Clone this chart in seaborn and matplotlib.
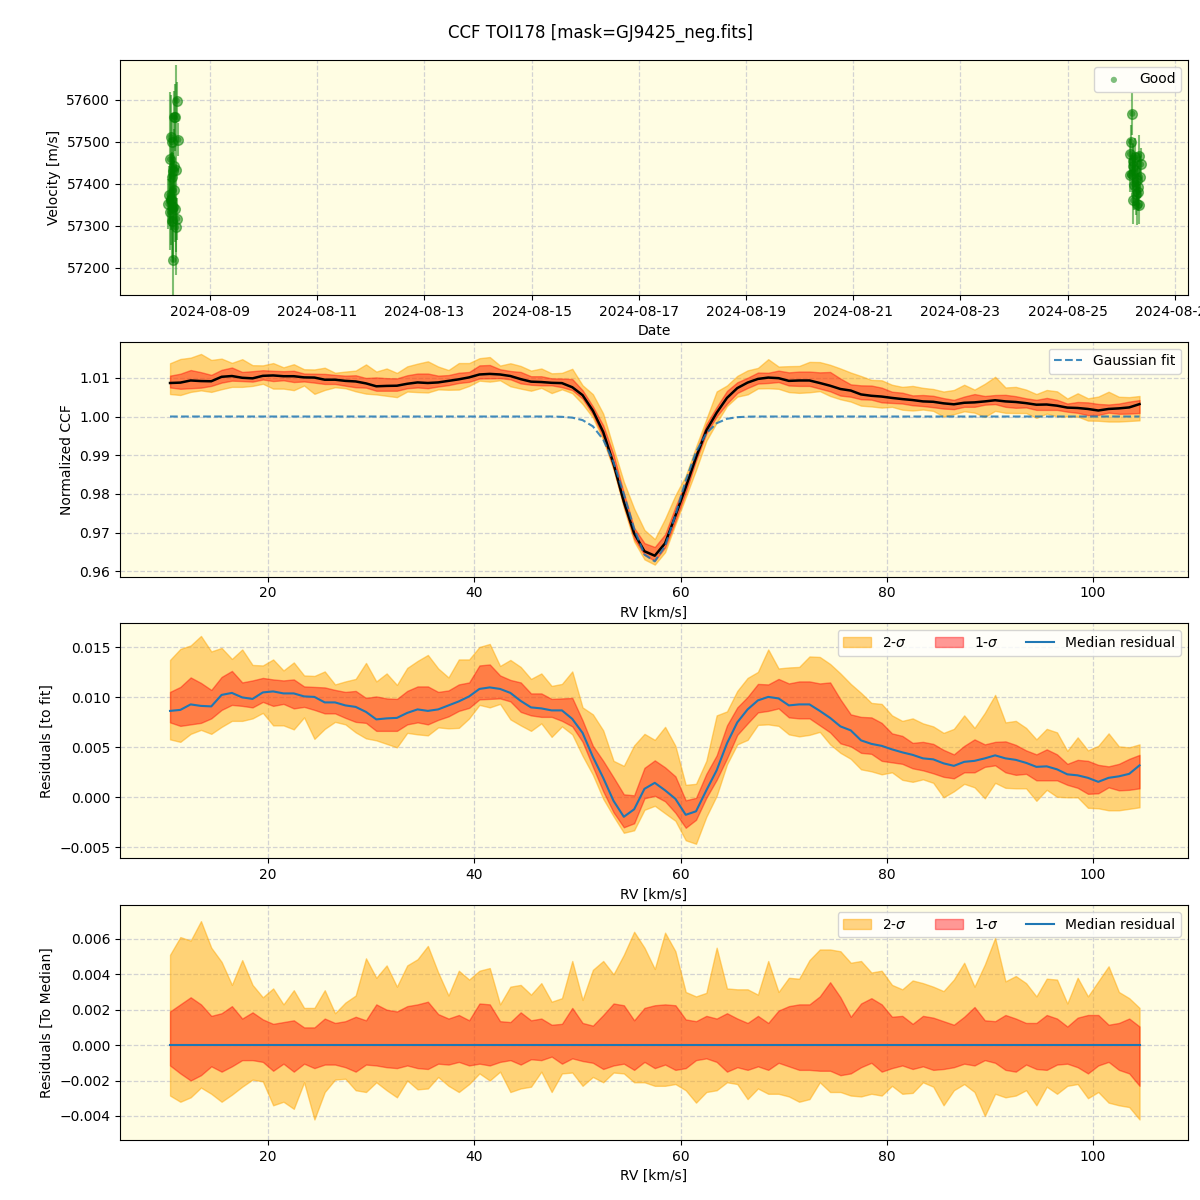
import matplotlib
matplotlib.use("Agg")
import matplotlib.pyplot as plt
import matplotlib.dates as mdates
import seaborn as sns
import numpy as np
import pandas as pd

# ---- panel 1: RV time series (Good points) ----
times = [
    "2024-08-08 09:06", "2024-08-08 07:53", "2024-08-08 08:15", "2024-08-08 06:24",
    "2024-08-08 09:50", "2024-08-08 06:50", "2024-08-08 06:05", "2024-08-08 07:53",
    "2024-08-08 08:47", "2024-08-08 07:18", "2024-08-08 05:48", "2024-08-08 06:24",
    "2024-08-08 05:20", "2024-08-08 07:35", "2024-08-08 08:15", "2024-08-08 09:16",
    "2024-08-08 06:50", "2024-08-08 08:47", "2024-08-08 07:35", "2024-08-08 06:30",
    "2024-08-08 07:10", "2024-08-08 07:50", "2024-08-08 06:10",
    "2024-08-26 04:58", "2024-08-26 04:24", "2024-08-26 03:56", "2024-08-26 07:58",
    "2024-08-26 06:11", "2024-08-26 08:52", "2024-08-26 05:25", "2024-08-26 04:42",
    "2024-08-26 03:56", "2024-08-26 08:25", "2024-08-26 06:56", "2024-08-26 05:52",
    "2024-08-26 07:23", "2024-08-26 07:40", "2024-08-26 05:25", "2024-08-26 06:56",
    "2024-08-26 07:58", "2024-08-26 06:10", "2024-08-26 06:30", "2024-08-26 05:20",
]
velocity = [
    57598, 57560, 57558, 57511, 57505, 57499, 57458, 57441, 57433, 57431, 57373, 57364,
    57352, 57344, 57340, 57316, 57312, 57296, 57218, 57360, 57415, 57384, 57332,
    57567, 57500, 57471, 57467, 57463, 57446, 57443, 57424, 57420, 57416, 57408, 57398,
    57393, 57380, 57360, 57352, 57348, 57432, 57376, 57455,
]
velocity_err = [
    45, 60, 80, 100, 40, 70, 160, 90, 250, 60, 70, 110,
    60, 130, 80, 50, 90, 60, 170, 70, 60, 80, 90,
    50, 40, 35, 50, 45, 40, 55, 45, 40, 50, 45, 60,
    50, 45, 55, 50, 45, 40, 50, 40,
]

# ---- CCF panels (units of 1e-3 for residuals) ----
rv = np.arange(10.5, 105.0, 1.0)

gauss_fit = [1.0] * 38 + [
    0.99992, 0.99971, 0.99907, 0.99746, 0.99406, 0.98819, 0.97997, 0.97105, 0.96437,
    0.96262, 0.96658, 0.97454, 0.98346, 0.99085, 0.99569, 0.99827, 0.99941, 0.99983,
    0.99996,
] + [1.0] * 38

median_resid = [
    8.65, 8.75, 9.3, 9.15, 9.1, 10.25, 10.45, 10.0, 9.85, 10.5, 10.6, 10.4, 10.4, 10.1,
    10.05, 9.5, 9.5, 9.2, 9.05, 8.55, 7.8, 7.9, 7.95, 8.45, 8.8, 8.65, 8.8, 9.2, 9.6,
    10.1, 10.85, 11.0, 10.85, 10.45, 9.65, 9.0, 8.9, 8.7, 8.7, 7.85, 6.45, 4.05, 1.95,
    -0.35, -1.95, -1.2, 0.85, 1.45, 0.7, -0.15, -1.75, -1.4, 0.7, 2.7, 5.4, 7.5, 8.8,
    9.7, 10.05, 9.9, 9.2, 9.3, 9.3, 8.65, 7.95, 7.1, 6.7, 5.7, 5.35, 5.15, 4.8, 4.5,
    4.25, 3.9, 3.8, 3.4, 3.15, 3.55, 3.65, 3.9, 4.2, 3.9, 3.75, 3.45, 3.05, 3.1, 2.8,
    2.3, 2.2, 1.95, 1.55, 1.95, 2.1, 2.35, 3.2,
]

# band edges relative to the median
up2 = [
    5.1, 6.1, 5.9, 7.0, 5.5, 4.7, 3.4, 4.8, 3.4, 2.7, 3.2, 2.3, 3.1, 2.1, 2.1, 3.1, 1.8,
    2.4, 2.8, 4.9, 3.8, 4.5, 3.3, 4.5, 4.85, 5.6, 4.1, 2.8, 4.2, 3.7, 4.2, 4.35, 2.3,
    3.3, 3.4, 2.85, 3.5, 2.45, 2.65, 4.75, 2.55, 4.25, 4.75, 4.0, 5.1, 6.4, 5.5, 4.3,
    6.35, 5.3, 3.0, 2.75, 2.95, 5.5, 3.2, 3.15, 3.15, 2.85, 4.75, 3.0, 3.8, 3.75, 4.8,
    5.4, 5.4, 5.3, 4.65, 4.75, 4.1, 4.2, 3.4, 3.15, 3.65, 3.5, 3.3, 3.05, 3.7, 4.65,
    3.3, 4.55, 6.05, 3.6, 3.9, 3.5, 2.75, 3.75, 3.7, 2.35, 3.8, 2.75, 3.6, 4.45, 3.0,
    2.65, 2.1,
]
up1 = [
    1.9, 2.3, 2.7, 2.3, 1.65, 1.8, 2.2, 1.5, 1.85, 1.45, 1.2, 1.3, 1.4, 1.0, 1.0, 1.5,
    1.25, 1.35, 1.6, 1.4, 2.3, 2.0, 1.9, 2.2, 2.3, 2.45, 1.75, 1.5, 1.7, 1.4, 2.35, 2.3,
    1.35, 1.3, 1.85, 1.4, 1.5, 1.15, 1.2, 2.1, 1.25, 1.1, 1.7, 2.35, 2.25, 1.4, 2.1,
    2.25, 2.3, 2.25, 1.45, 1.35, 1.65, 1.5, 1.8, 1.5, 1.25, 1.65, 1.25, 1.95, 2.2, 2.3,
    2.3, 2.75, 3.55, 2.7, 1.6, 2.35, 2.65, 2.3, 1.6, 1.65, 1.2, 1.65, 1.55, 1.35, 1.15,
    1.6, 2.15, 1.4, 1.35, 1.7, 1.5, 1.25, 1.25, 1.7, 1.5, 1.05, 1.55, 1.7, 1.7, 1.15,
    1.25, 1.5, 1.05,
]
lo1 = [
    -1.15, -1.6, -2.0, -1.7, -1.2, -1.5, -1.2, -0.85, -0.85, -0.95, -1.45, -1.05, -1.5,
    -1.05, -1.3, -1.1, -1.1, -1.25, -1.5, -1.1, -1.15, -1.25, -1.3, -1.15, -1.3, -1.35,
    -1.05, -1.1, -0.95, -1.15, -1.05, -1.15, -0.95, -0.85, -1.1, -0.8, -0.85, -0.65,
    -1.05, -0.75, -0.9, -1.0, -1.35, -1.15, -1.05, -1.4, -0.95, -1.3, -1.1, -1.4, -1.3,
    -0.85, -0.75, -0.95, -1.5, -1.25, -1.4, -1.2, -1.4, -1.0, -1.2, -1.4, -1.4, -1.45,
    -1.45, -1.7, -1.6, -1.25, -1.0, -1.5, -1.3, -1.15, -1.35, -1.2, -1.4, -1.35, -1.25,
    -1.05, -1.15, -0.85, -1.0, -1.4, -1.5, -1.1, -1.35, -1.4, -1.1, -1.05, -1.25, -1.6,
    -1.15, -0.95, -1.4, -1.6, -2.3,
]
lo2 = [
    -2.85, -3.2, -2.95, -2.4, -2.75, -3.2, -2.8, -2.35, -1.95, -2.05, -3.4, -3.2, -3.6,
    -2.1, -4.2, -2.65, -1.95, -1.9, -2.55, -2.65, -2.1, -2.55, -2.95, -2.0, -2.5, -2.45,
    -1.8, -2.3, -2.65, -2.2, -1.6, -2.0, -1.5, -2.65, -2.45, -2.35, -1.5, -2.65, -1.6,
    -1.55, -2.3, -1.8, -2.1, -1.55, -1.6, -2.1, -2.1, -2.3, -2.3, -2.2, -2.55, -3.25,
    -2.65, -2.55, -2.1, -2.2, -3.05, -2.45, -2.75, -2.75, -2.9, -3.2, -3.05, -2.1, -2.65,
    -2.65, -2.85, -2.9, -2.75, -2.85, -2.3, -2.75, -2.7, -2.1, -2.35, -3.4, -2.55, -2.2,
    -2.65, -4.0, -2.75, -2.95, -2.85, -2.55, -3.4, -2.35, -2.75, -2.3, -2.2, -3.0, -2.65,
    -3.25, -3.4, -3.5, -4.2,
]

BG = "#fffde3"
C2 = "orange"
C1 = "red"
CLINE = "tab:blue"


def style_ax(ax):
    ax.set_facecolor(BG)
    ax.grid(True, linestyle="--", color="lightgray", linewidth=0.9)
    ax.set_axisbelow(True)


def bands(ax, x, base, lo2_, lo1_, up1_, up2_):
    ax.fill_between(x, base + lo2_, base + up2_, color=C2, alpha=0.48, label="2-$\\sigma$")
    ax.fill_between(x, base + lo1_, base + up1_, color=C1, alpha=0.4, label="1-$\\sigma$")


fig, axes = plt.subplots(4, 1, figsize=(12, 12), dpi=100)
fig.subplots_adjust(left=0.1, right=0.99, top=0.95, bottom=0.05, hspace=0.2)
fig.suptitle("CCF TOI178 [mask=GJ9425_neg.fits]", fontsize=12)

# panel 1
ax = axes[0]
style_ax(ax)
t = pd.to_datetime(times)
ax.errorbar(t, velocity, yerr=velocity_err, fmt="o", color="green", alpha=0.5, ms=7)
sns.scatterplot(x=t, y=velocity, color="green", alpha=0.5, s=20, ax=ax,
                edgecolor="none", label="Good")
ax.set_xlim(pd.Timestamp("2024-08-07 07:42"), pd.Timestamp("2024-08-27 05:54"))
ax.set_ylim(57135, 57695)
ax.xaxis.set_major_locator(mdates.DayLocator(interval=2))
ax.xaxis.set_major_formatter(mdates.DateFormatter("%Y-%m-%d"))
ax.set_xlabel("Date")
ax.set_ylabel("Velocity [m/s]")
ax.legend(loc="upper right")

fit = np.array(gauss_fit)
med = np.array(median_resid) * 1e-3
u2, u1 = np.array(up2) * 1e-3, np.array(up1) * 1e-3
l1, l2 = np.array(lo1) * 1e-3, np.array(lo2) * 1e-3
xlim = (5.65, 109.2)

# panel 2
ax = axes[1]
style_ax(ax)
ccf = fit + med
ax.fill_between(rv, ccf + l2, ccf + u2, color=C2, alpha=0.48)
ax.fill_between(rv, ccf + l1, ccf + u1, color=C1, alpha=0.4)
sns.lineplot(x=rv, y=ccf, color="black", lw=1.8, ax=ax)
sns.lineplot(x=rv, y=fit, color=CLINE, ls="--", alpha=0.85, lw=1.5, ax=ax,
             label="Gaussian fit")
ax.set_xlim(*xlim)
ax.set_ylim(0.9587, 1.0193)
ax.set_xlabel("RV [km/s]")
ax.set_ylabel("Normalized CCF")
ax.legend(loc="upper right")

# panel 3
ax = axes[2]
style_ax(ax)
bands(ax, rv, med, l2, l1, u1, u2)
sns.lineplot(x=rv, y=med, color=CLINE, lw=1.5, ax=ax, label="Median residual")
ax.set_xlim(*xlim)
ax.set_ylim(-0.0061, 0.0174)
ax.set_xlabel("RV [km/s]")
ax.set_ylabel("Residuals [to fit]")
ax.legend(loc="upper right", ncol=3)

# panel 4
ax = axes[3]
style_ax(ax)
zero = np.zeros_like(med)
bands(ax, rv, zero, l2, l1, u1, u2)
sns.lineplot(x=rv, y=zero, color=CLINE, lw=1.5, ax=ax, label="Median residual")
ax.set_xlim(*xlim)
ax.set_ylim(-0.00536, 0.0079)
ax.set_xlabel("RV [km/s]")
ax.set_ylabel("Residuals [To Median]")
ax.legend(loc="upper right", ncol=3)

fig.savefig("out.png", dpi=100)
